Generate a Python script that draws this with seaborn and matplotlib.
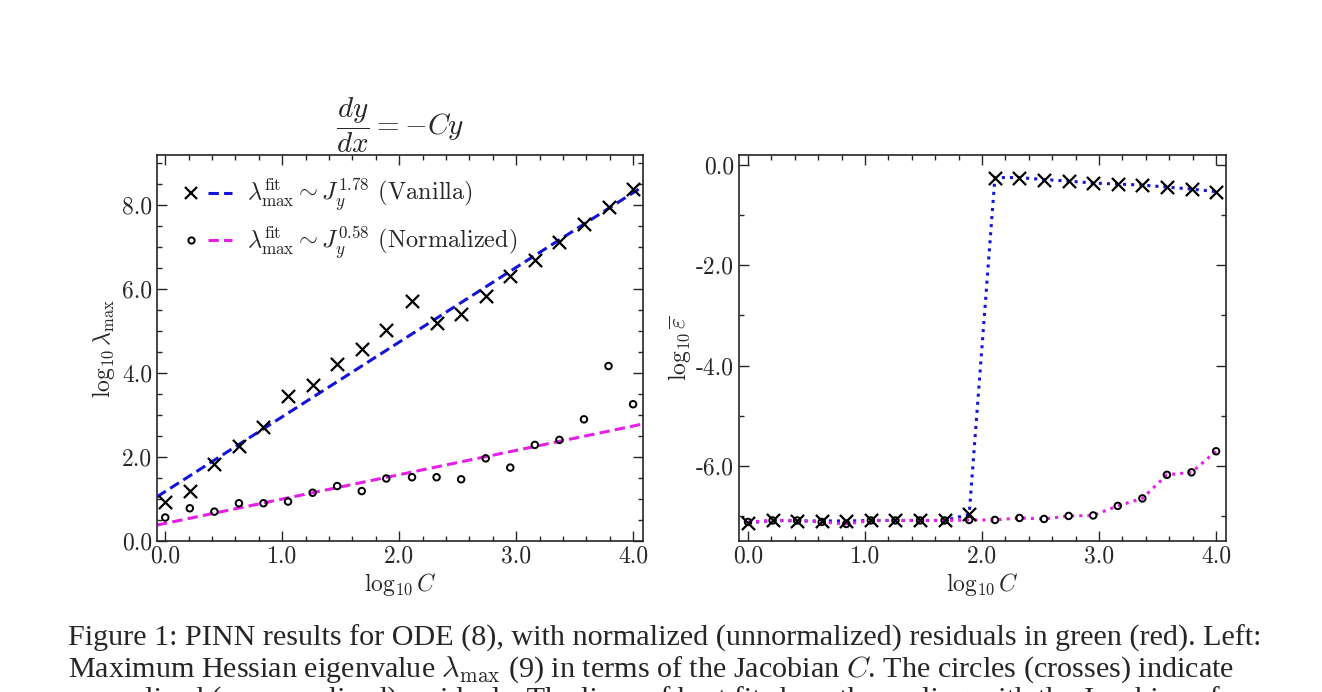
import matplotlib
matplotlib.use("Agg")
import matplotlib.pyplot as plt
import numpy as np
import pandas as pd
import seaborn as sns
from matplotlib.legend_handler import HandlerTuple
from matplotlib.lines import Line2D
from matplotlib.ticker import AutoMinorLocator, FormatStrFormatter

# log10 C grid (20 runs)
log_c = [0.0, 0.21, 0.42, 0.63, 0.84, 1.05, 1.26, 1.47, 1.68, 1.89,
         2.11, 2.32, 2.53, 2.74, 2.95, 3.16, 3.37, 3.58, 3.79, 4.0]

# left panel: log10 lambda_max
lam_vanilla = [0.94, 1.20, 1.83, 2.26, 2.71, 3.45, 3.71, 4.21, 4.57, 5.04,
               5.72, 5.20, 5.40, 5.84, 6.31, 6.69, 7.13, 7.56, 7.96, 8.40]
lam_normalized = [0.56, 0.78, 0.70, 0.90, 0.90, 0.94, 1.15, 1.31, 1.19, 1.49,
                  1.52, 1.52, 1.47, 1.97, 1.75, 2.29, 2.41, 2.90, 4.17, 3.26]

# fitted lines, value at log10 C = 0 and 4
fit_x = [0.0, 4.0]
fit_vanilla = [1.18, 8.30]
fit_normalized = [0.42, 2.74]

# right panel: log10 mean error
err_vanilla = [-7.14, -7.09, -7.10, -7.10, -7.10, -7.09, -7.09, -7.09, -7.09, -6.97,
               -0.25, -0.25, -0.29, -0.32, -0.36, -0.38, -0.40, -0.44, -0.48, -0.53]
err_normalized = [-7.12, -7.09, -7.09, -7.12, -7.16, -7.09, -7.09, -7.09, -7.09, -7.08,
                  -7.08, -7.04, -7.06, -7.00, -6.99, -6.80, -6.65, -6.18, -6.13, -5.71]

BLUE = "#1414d8"
MAGENTA = "#e61ee6"
DASH = (0, (3.4, 1.7))

sns.set_style("ticks")
plt.rcParams["font.family"] = ["cmr10", "DejaVu Serif"]
plt.rcParams["mathtext.fontset"] = "cm"
plt.rcParams["axes.unicode_minus"] = False
plt.rcParams["axes.formatter.use_mathtext"] = True
plt.rcParams["xtick.direction"] = "in"
plt.rcParams["ytick.direction"] = "in"

df = pd.DataFrame({"x": log_c, "lv": lam_vanilla, "ln": lam_normalized,
                   "ev": err_vanilla, "en": err_normalized})

fig = plt.figure(figsize=(13.22, 6.92), dpi=100)
ax1 = fig.add_axes([0.1188, 0.2182, 0.3676, 0.5578])
ax2 = fig.add_axes([0.559, 0.2182, 0.3684, 0.5578])

# ---- left panel
sns.scatterplot(data=df, x="x", y="lv", ax=ax1, marker="x", s=90, color="black",
                linewidth=1.6, zorder=3)
sns.scatterplot(data=df, x="x", y="ln", ax=ax1, marker="o", s=22, facecolor="none",
                edgecolor="black", linewidth=1.4, zorder=3)
ax1.axline((fit_x[0], fit_vanilla[0]), (fit_x[1], fit_vanilla[1]), color=BLUE,
           lw=2.2, ls=DASH, zorder=2)
ax1.axline((fit_x[0], fit_normalized[0]), (fit_x[1], fit_normalized[1]), color=MAGENTA,
           lw=2.2, ls=DASH, zorder=2)
ax1.set_xlim(-0.07, 4.085)
ax1.set_ylim(0, 9.2)
ax1.set_xlabel(r"$\log_{10}C$", fontsize=17, labelpad=2)
ax1.set_ylabel(r"$\log_{10}\lambda_{\max}$", fontsize=17, labelpad=4)
ax1.set_title(r"$\dfrac{dy}{dx} ={-}Cy$", fontsize=21, pad=3)
ax1.yaxis.set_minor_locator(AutoMinorLocator(4))

h_v = (Line2D([], [], marker="x", ls="none", color="black", ms=8, mew=1.6),
       Line2D([], [], color=BLUE, lw=2.2, ls=DASH))
h_n = (Line2D([], [], marker="o", ls="none", mfc="none", mec="black", ms=4.5, mew=1.4),
       Line2D([], [], color=MAGENTA, lw=2.2, ls=DASH))
ax1.legend([h_v, h_n],
           [r"$\lambda_{\max}^{\rm fit} \sim J_y^{1.78}$ (Vanilla)",
            r"$\lambda_{\max}^{\rm fit} \sim J_y^{0.58}$ (Normalized)"],
           handler_map={tuple: HandlerTuple(ndivide=None, pad=0.2)},
           handlelength=2.2, frameon=False, fontsize=17.5, loc="upper left",
           borderaxespad=0.5, borderpad=0.4, labelspacing=0.45, handletextpad=0.6)

# ---- right panel
sns.lineplot(data=df, x="x", y="ev", ax=ax2, color=BLUE, lw=2.2, ls=":", zorder=2)
sns.lineplot(data=df, x="x", y="en", ax=ax2, color=MAGENTA, lw=2.2, ls=":", zorder=2)
sns.scatterplot(data=df, x="x", y="ev", ax=ax2, marker="x", s=90, color="black",
                linewidth=1.6, zorder=3)
sns.scatterplot(data=df, x="x", y="en", ax=ax2, marker="o", s=22, facecolor="none",
                edgecolor="black", linewidth=1.4, zorder=3)
ax2.set_xlim(-0.077, 4.085)
ax2.set_ylim(-7.5, 0.2)
ax2.set_xlabel(r"$\log_{10}C$", fontsize=17, labelpad=2)
ax2.set_ylabel(r"$\log_{10}\overline{\varepsilon}$", fontsize=17, labelpad=2)
ax2.set_yticks([0.0, -2.0, -4.0, -6.0])
ax2.yaxis.set_minor_locator(AutoMinorLocator(2))

for ax in (ax1, ax2):
    ax.set_xticks([0.0, 1.0, 2.0, 3.0, 4.0])
    ax.xaxis.set_minor_locator(AutoMinorLocator(5))
    ax.xaxis.set_major_formatter(FormatStrFormatter("%.1f"))
    ax.yaxis.set_major_formatter(FormatStrFormatter("%.1f"))
    ax.tick_params(which="both", direction="in", top=True, right=True, labelsize=17)
    ax.tick_params(which="major", length=7, width=1.0)
    ax.tick_params(which="minor", length=3.5, width=1.0)
    for s in ax.spines.values():
        s.set_linewidth(1.2)

cap = ("Figure 1: PINN results for ODE (8), with normalized (unnormalized) residuals in green (red). Left:\n"
       "Maximum Hessian eigenvalue $\\lambda_{\\mathrm{max}}$ (9) in terms of the Jacobian $C$. The circles (crosses) indicate\n"
       "normalized (unnormalized) residuals. The lines of best fit show the scaling with the Jacobian of")
fig.text(0.0514, 0.097, cap, fontsize=21.7, family=["Liberation Serif", "DejaVu Serif"],
         va="top", ha="left", linespacing=1.08)

fig.savefig("out.png", dpi=100)
